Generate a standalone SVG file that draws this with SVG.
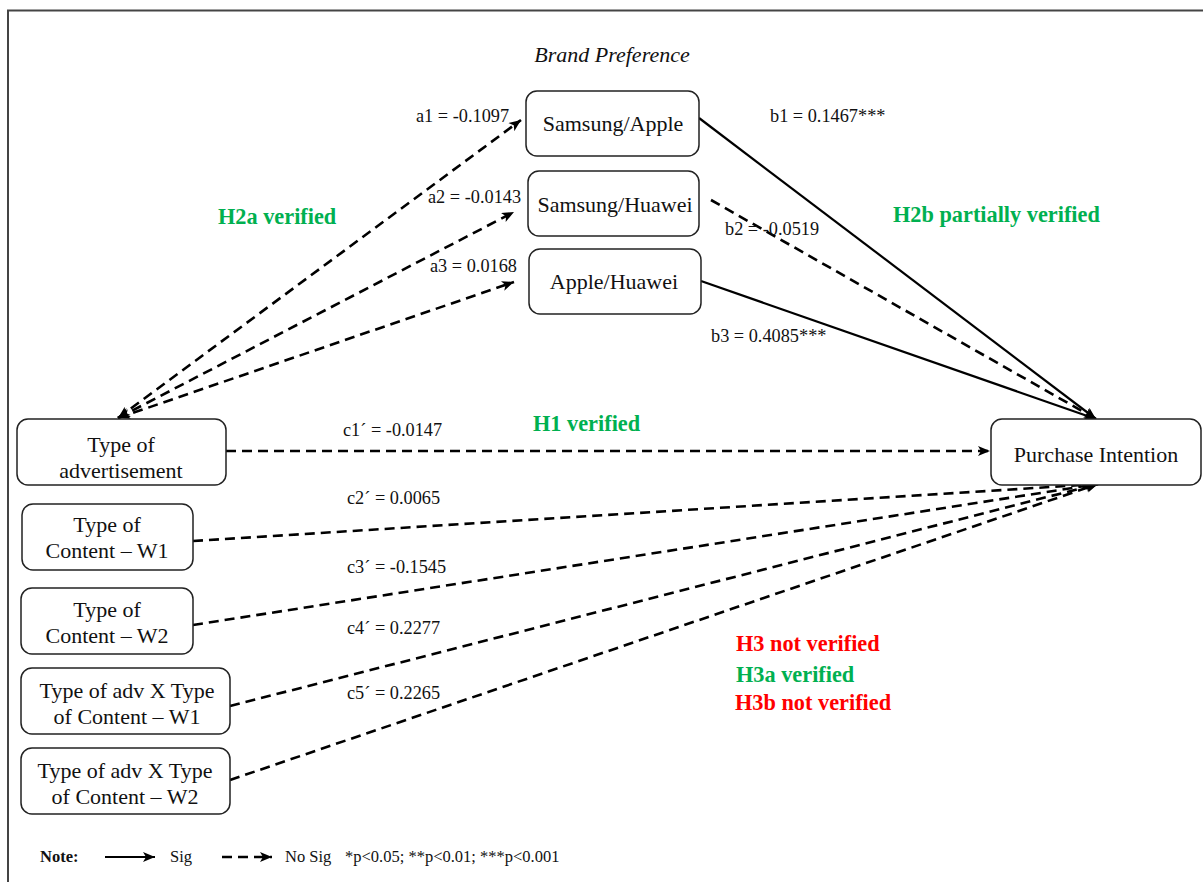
<svg xmlns="http://www.w3.org/2000/svg" width="1203" height="882" viewBox="0 0 1203 882">
<style>
.box{fill:#fff;stroke:#222;stroke-width:1.5}
.t{font-family:"Liberation Serif","Times New Roman",serif;font-size:22px;fill:#111;text-anchor:middle}
.l{font-family:"Liberation Serif","Times New Roman",serif;font-size:18.3px;fill:#111}
.g{font-family:"Liberation Serif","Times New Roman",serif;font-size:22.3px;font-weight:bold;fill:#00B050}
.r{font-family:"Liberation Serif","Times New Roman",serif;font-size:22.3px;font-weight:bold;fill:#FF0000}
.n{font-family:"Liberation Serif","Times New Roman",serif;font-size:16.5px;fill:#111}
.d{fill:none;stroke:#000;stroke-width:2.6;stroke-dasharray:10 6}
.s{fill:none;stroke:#000;stroke-width:2.2}
</style>
<defs>
<marker id="ah" viewBox="0 0 12 10" refX="12" refY="5" markerWidth="13" markerHeight="10" markerUnits="userSpaceOnUse" orient="auto-start-reverse">
<path d="M0,0 L12,5 L0,10 L3,5 Z" fill="#000"/>
</marker>
</defs>
<rect width="1203" height="882" fill="#fff"/>
<path d="M8,882 V10.5 H1203" fill="none" stroke="#444" stroke-width="2"/>
<g id="connectors">
<line class="d" x1="118" y1="418" x2="521" y2="120" marker-start="url(#ah)" marker-end="url(#ah)"/>
<line class="d" x1="118" y1="418" x2="514" y2="212" marker-start="url(#ah)" marker-end="url(#ah)"/>
<line class="d" x1="118" y1="418" x2="514" y2="282" marker-start="url(#ah)" marker-end="url(#ah)"/>
<line class="s" x1="699" y1="118" x2="1096" y2="419" marker-end="url(#ah)"/>
<line class="d" x1="711" y1="200" x2="1096" y2="419" marker-end="url(#ah)"/>
<line class="s" x1="701" y1="281" x2="1096" y2="419" marker-end="url(#ah)"/>
<line class="d" x1="226" y1="451" x2="990" y2="451" marker-end="url(#ah)"/>
<line class="d" x1="193" y1="541" x2="1098" y2="484" marker-end="url(#ah)"/>
<line class="d" x1="193" y1="625" x2="1098" y2="484" marker-end="url(#ah)"/>
<line class="d" x1="230" y1="706" x2="1098" y2="484" marker-end="url(#ah)"/>
<line class="d" x1="230" y1="780" x2="1098" y2="484" marker-end="url(#ah)"/>
</g>
<text x="612" y="62" class="t" font-style="italic" font-size="21">Brand Preference</text>
<g id="samsung-apple"><rect class="box" x="526" y="91" width="173" height="65" rx="11"/><text class="t" x="613" y="130.5">Samsung/Apple</text></g>
<g id="samsung-huawei"><rect class="box" x="528" y="171" width="171" height="65" rx="11"/><text class="t" x="615" y="211.5">Samsung/Huawei</text></g>
<g id="apple-huawei"><rect class="box" x="529" y="249" width="172" height="65" rx="11"/><text class="t" x="614" y="288.5">Apple/Huawei</text></g>
<g id="type-adv"><rect class="box" x="17" y="419" width="209" height="66" rx="11"/><text class="t" x="121" y="451.5">Type of</text><text class="t" x="121" y="477.5">advertisement</text></g>
<g id="content-w1"><rect class="box" x="22" y="504" width="171" height="66" rx="11"/><text class="t" x="107" y="531.5">Type of</text><text class="t" x="107" y="557.5">Content – W1</text></g>
<g id="content-w2"><rect class="box" x="21" y="588" width="172" height="66" rx="11"/><text class="t" x="107" y="616.5">Type of</text><text class="t" x="107" y="642.5">Content – W2</text></g>
<g id="adv-x-w1"><rect class="box" x="21" y="668" width="209" height="66" rx="11"/><text class="t" x="127" y="697.5">Type of adv X Type</text><text class="t" x="127" y="723.5">of Content – W1</text></g>
<g id="adv-x-w2"><rect class="box" x="21" y="748" width="209" height="66" rx="11"/><text class="t" x="125" y="777.5">Type of adv X Type</text><text class="t" x="125" y="803.5">of Content – W2</text></g>
<g id="purchase"><rect class="box" x="991" y="419" width="210" height="66" rx="11"/><text class="t" x="1096" y="461.5">Purchase Intention</text></g>
<g id="labels">
<text class="l" x="416" y="122">a1 = -0.1097</text>
<text class="l" x="428" y="203">a2 = -0.0143</text>
<text class="l" x="430" y="272">a3 = 0.0168</text>
<text class="l" x="770" y="122">b1 = 0.1467***</text>
<text class="l" x="725" y="235">b2 = -0.0519</text>
<text class="l" x="711" y="342">b3 = 0.4085***</text>
<text class="l" x="343" y="436">c1´ = -0.0147</text>
<text class="l" x="347" y="504">c2´ = 0.0065</text>
<text class="l" x="347" y="573">c3´ = -0.1545</text>
<text class="l" x="347" y="634">c4´ = 0.2277</text>
<text class="l" x="347" y="699">c5´ = 0.2265</text>
</g>
<g id="hypotheses">
<text class="g" x="218" y="224">H2a verified</text>
<text class="g" x="893" y="222">H2b partially verified</text>
<text class="g" x="533" y="431">H1 verified</text>
<text class="r" x="736" y="651">H3 not verified</text>
<text class="g" x="736" y="682">H3a verified</text>
<text class="r" x="735" y="710">H3b not verified</text>
</g>
<g id="legend">
<text class="n" x="40" y="862" font-weight="bold">Note:</text>
<line class="s" x1="105" y1="857" x2="155" y2="857" stroke-width="1.5" marker-end="url(#ah)"/>
<text class="n" x="170" y="862">Sig</text>
<line class="d" x1="222" y1="857" x2="272" y2="857" stroke-width="1.5" stroke-dasharray="6 4" marker-end="url(#ah)"/>
<text class="n" x="285" y="862">No Sig</text>
<text class="n" x="345" y="862">*p&lt;0.05; **p&lt;0.01; ***p&lt;0.001</text>
</g>
</svg>
